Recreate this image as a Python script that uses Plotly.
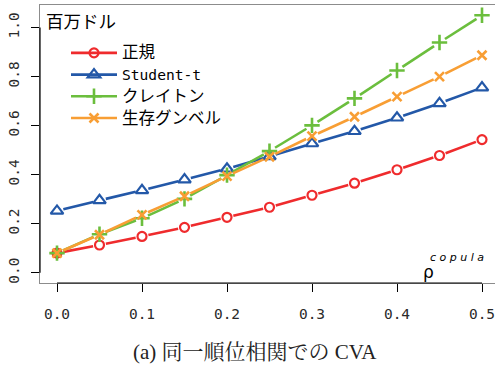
import numpy as np
import plotly.graph_objects as go

# correlation grid
rho = [0.0, 0.05, 0.10, 0.15, 0.20, 0.25, 0.30, 0.35, 0.40, 0.45, 0.50]

# CVA (million dollars) per copula
cva_normal = [0.080, 0.113, 0.148, 0.185, 0.226, 0.267, 0.316, 0.365, 0.420, 0.478, 0.543]
cva_student = [0.252, 0.295, 0.336, 0.380, 0.424, 0.474, 0.527, 0.577, 0.632, 0.691, 0.755]
cva_clayton = [0.080, 0.157, 0.222, 0.301, 0.398, 0.496, 0.601, 0.711, 0.825, 0.939, 1.050]
cva_gumbel = [0.080, 0.155, 0.236, 0.312, 0.394, 0.473, 0.557, 0.636, 0.718, 0.800, 0.887]

series_names = ["正規", "Student-t", "クレイトン", "生存グンベル"]
x_ticks = [0.0, 0.1, 0.2, 0.3, 0.4, 0.5]
y_ticks = [0.0, 0.2, 0.4, 0.6, 0.8, 1.0]

# figure geometry
W, H = 495, 365
ML, MR, MT, MB = 40, 0, 5, 82
XR = [-0.02, 0.5153]
YR = [-0.042, 1.092]
PW, PH = W - ML - MR, H - MT - MB
sx = PW / (XR[1] - XR[0])
sy = PH / (YR[1] - YR[0])

GAP = 6.5  # px left free around each point (type="b" look)


def gapped(xs, ys):
    """Line segments between consecutive points, trimmed near each point."""
    gx, gy = [], []
    for i in range(len(xs) - 1):
        dx = (xs[i + 1] - xs[i]) * sx
        dy = (ys[i + 1] - ys[i]) * sy
        f = GAP / np.hypot(dx, dy)
        gx += [xs[i] + (xs[i + 1] - xs[i]) * f, xs[i + 1] - (xs[i + 1] - xs[i]) * f, None]
        gy += [ys[i] + (ys[i + 1] - ys[i]) * f, ys[i + 1] - (ys[i + 1] - ys[i]) * f, None]
    return gx, gy


def legend_label(s):
    # Latin names in a narrow monospace, Japanese names at full size
    if s.isascii():
        return f'<span style="font-family:DejaVu Sans Mono;font-size:14.6px">{s}</span>'
    return f'<span style="font-size:16.5px">{s}</span>'


styles = [
    (cva_normal, "#EF2B2D", dict(symbol="circle-open", size=9, line=dict(width=2.2))),
    (cva_student, "#2358A8", dict(symbol="triangle-up-open", size=11, line=dict(width=2.2))),
    (cva_clayton, "#6BBE3D", dict(symbol="cross-thin-open", size=11, line=dict(width=2.6))),
    (cva_gumbel, "#F89E34", dict(symbol="x-thin-open", size=9, line=dict(width=2.6))),
]

fig = go.Figure()
for name, (vals, col, mk) in zip(series_names, styles):
    gx, gy = gapped(rho, vals)
    fig.add_trace(go.Scatter(x=gx, y=gy, mode="lines", line=dict(color=col, width=2.6),
                             showlegend=False, hoverinfo="skip"))
    m = dict(mk)
    m["color"] = col
    m["line"] = dict(m["line"], color=col)
    fig.add_trace(go.Scatter(x=rho, y=vals, mode="markers", marker=m, showlegend=False))
    # legend entry
    fig.add_trace(go.Scatter(x=[None], y=[None], mode="lines+markers", name=legend_label(name),
                             line=dict(color=col, width=2.6), marker=m))

tick_font = dict(family="DejaVu Sans Mono", size=14.5, color="#2a2a2a")
box_col = "#8c8c8c"

fig.update_xaxes(range=XR, tickvals=x_ticks, ticktext=[f"{v:.1f}" for v in x_ticks],
                 ticks="outside", ticklen=8, tickcolor="black", tickwidth=1,
                 showline=True, linecolor=box_col, linewidth=1, mirror=True,
                 showgrid=False, zeroline=False, tickfont=tick_font, ticklabelstandoff=10,
                 ticklabeloverflow="allow")
fig.update_yaxes(range=YR, tickvals=y_ticks, ticktext=[f"{v:.1f}" for v in y_ticks],
                 ticks="outside", ticklen=8, tickcolor="black", tickwidth=1, tickangle=-90,
                 showline=True, linecolor=box_col, linewidth=1, mirror=True,
                 showgrid=False, zeroline=False, tickfont=tick_font, ticklabelstandoff=6,
                 ticklabeloverflow="allow")

# black axis lines spanning the tick range
fig.add_shape(type="line", xref="x", yref="paper", x0=x_ticks[0], x1=x_ticks[-1], y0=0, y1=0,
              line=dict(color="black", width=1.2), layer="above")
fig.add_shape(type="line", xref="paper", yref="y", x0=0, x1=0, y0=y_ticks[0], y1=y_ticks[-1],
              line=dict(color="black", width=1.2), layer="above")


def px(xp):
    return (xp - ML) / PW


def py(yp):
    return (MT + PH - yp) / PH


fig.add_annotation(text="百万ドル", xref="paper", yref="paper", x=px(44), y=py(21),
                   xanchor="left", yanchor="middle", showarrow=False,
                   font=dict(family="Noto Sans CJK JP", size=17.5, color="black"))
fig.add_annotation(text="ρ", xref="paper", yref="paper", x=px(428), y=py(272),
                   xanchor="center", yanchor="middle", showarrow=False,
                   font=dict(family="DejaVu Sans", size=17, color="black"))
fig.add_annotation(text="<i>c o p u l a</i>", xref="paper", yref="paper", x=px(457), y=py(257),
                   xanchor="center", yanchor="middle", showarrow=False,
                   font=dict(family="DejaVu Sans", size=11, color="black"))
fig.add_annotation(text="(a) 同一順位相関での CVA", xref="paper", yref="paper", x=px(255), y=py(352),
                   xanchor="center", yanchor="middle", showarrow=False,
                   font=dict(family="Liberation Serif, Noto Serif CJK JP, Noto Sans CJK JP", size=21,
                             color="#222222"))

fig.update_layout(
    width=W, height=H, margin=dict(l=ML, r=MR, t=MT, b=MB),
    paper_bgcolor="white", plot_bgcolor="white",
    legend=dict(x=px(66), y=py(37), xanchor="left", yanchor="top", bgcolor="rgba(0,0,0,0)",
                font=dict(family="Noto Sans CJK JP", size=14.4, color="black"),
                itemwidth=46, tracegroupgap=0),
)

fig.write_html("out.html")
